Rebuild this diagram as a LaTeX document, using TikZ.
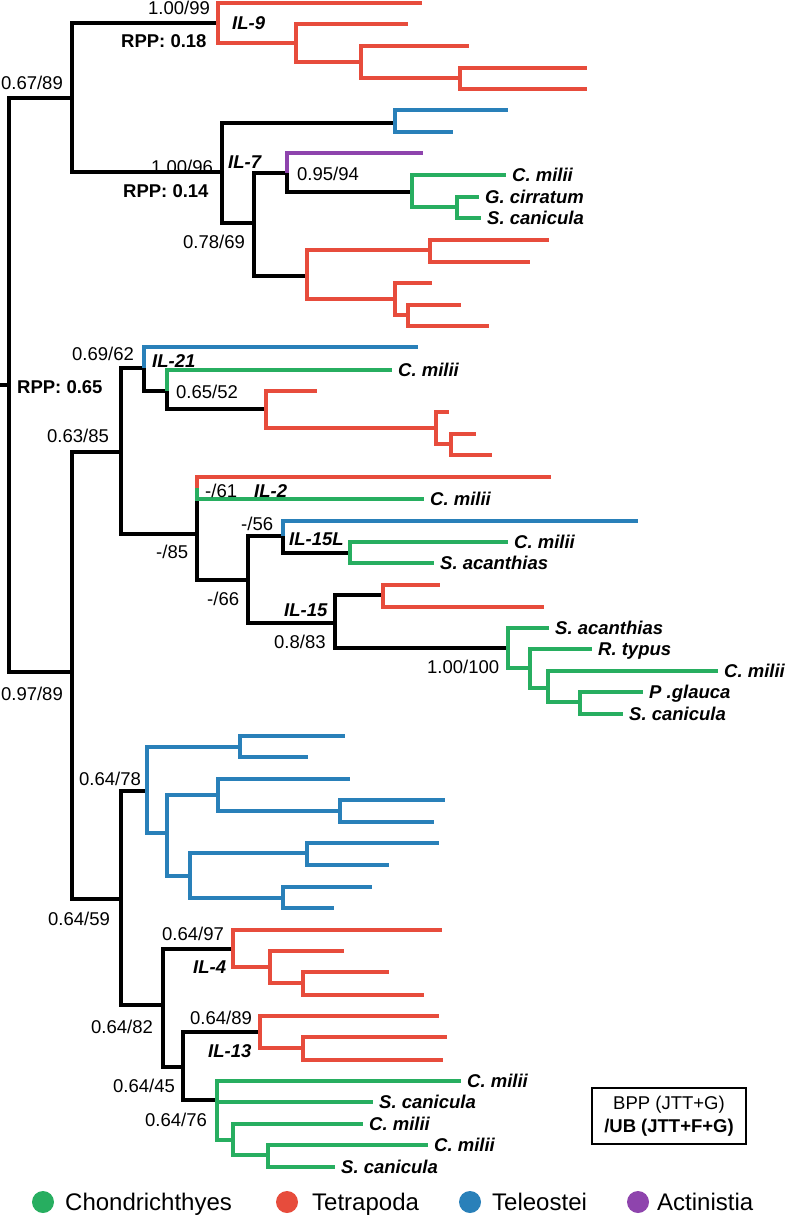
\documentclass[tikz,border=0pt]{standalone}
\usepackage{fontspec}
\setmainfont{Liberation Sans}
\usetikzlibrary{positioning}
\definecolor{cchon}{HTML}{27AE60}
\definecolor{ctet}{HTML}{E74C3C}
\definecolor{ctel}{HTML}{2980B9}
\definecolor{cact}{HTML}{8E44AD}

\begin{document}
\begin{tikzpicture}
[x=1pt, y=-1pt,
 blk/.style={line width=4pt, black},
 chon/.style={line width=3.2pt, cchon},
 tet/.style={line width=3.2pt, ctet},
 tel/.style={line width=3.2pt, ctel},
 act/.style={line width=3.2pt, cact},
 supp/.style={font=\fontsize{18.5}{22}\selectfont, inner sep=0pt, anchor=base west},
 rpp/.style={supp, font=\fontsize{18.5}{22}\selectfont\bfseries},
 clade/.style={supp, font=\fontsize{18.5}{22}\selectfont\bfseries\itshape},
 taxon/.style={font=\fontsize{18.5}{22}\selectfont\bfseries\itshape, inner sep=0pt,
   anchor=base west, xshift=6pt, yshift=-6.5pt},
 dot/.style={circle, inner sep=0pt, minimum size=22pt},
 key/.style={font=\fontsize{24}{28}\selectfont, inner sep=0pt, anchor=base west}]
\useasboundingbox (0,0) rectangle (787,1215);

% backbone
\coordinate (r0) at (0,385);   \coordinate (r) at (9,385);
\coordinate (a) at (72,98);    \coordinate (b) at (72,672);
% IL-9
\coordinate (a1) at (218,23);  \coordinate (a1b) at (296,43);
\coordinate (a1c) at (361,62); \coordinate (a1d) at (460,78);
\coordinate (t1) at (422,3);   \coordinate (t2) at (408,24);
\coordinate (t3) at (469,46);  \coordinate (t4) at (587,68);
\coordinate (t5) at (587,89);
% IL-7
\coordinate (a2) at (222,172); \coordinate (b1) at (395,123);
\coordinate (t6) at (508,110); \coordinate (t7) at (453,132);
\coordinate (b2) at (254,223); \coordinate (c1) at (287,173);
\coordinate (t8) at (423,153); \coordinate (c3) at (412,192);
\coordinate (t9) at (506,175); \coordinate (c4) at (457,207);
\coordinate (t10) at (479,197); \coordinate (t11) at (481,218);
\coordinate (c2) at (307,276); \coordinate (c5) at (430,250);
\coordinate (t12) at (549,240); \coordinate (t13) at (530,262);
\coordinate (c6) at (395,299); \coordinate (t14) at (432,283);
\coordinate (c7) at (408,315); \coordinate (t15) at (461,305);
\coordinate (t16) at (489,326);
% IL-21
\coordinate (d1) at (121,452); \coordinate (e1) at (144,368);
\coordinate (t17) at (418,347); \coordinate (e3) at (167,391);
\coordinate (t18) at (392,370); \coordinate (e4) at (266,409);
\coordinate (t19) at (317,391); \coordinate (e5) at (436,428);
\coordinate (t20) at (449,412); \coordinate (e6) at (451,444);
\coordinate (t21) at (476,434); \coordinate (t22) at (492,455);
% IL-2, IL-15L, IL-15
\coordinate (e2) at (197,534); \coordinate (f0) at (197,488);
\coordinate (t23) at (551,477); \coordinate (t24) at (424,499);
\coordinate (f1) at (248,580); \coordinate (f2) at (283,536);
\coordinate (t25) at (638,521); \coordinate (f4) at (350,553);
\coordinate (t26) at (508,542); \coordinate (t27) at (434,563);
\coordinate (f3) at (335,623); \coordinate (f5) at (383,595);
\coordinate (t28) at (440,585); \coordinate (t29) at (544,607);
\coordinate (f6) at (508,648); \coordinate (t30) at (549,628);
\coordinate (f7) at (530,668); \coordinate (t31) at (592,649);
\coordinate (f8) at (548,688); \coordinate (t32) at (718,671);
\coordinate (f9) at (580,702); \coordinate (t33) at (643,692);
\coordinate (t34) at (623,714);
% teleosts
\coordinate (d2) at (121,899); \coordinate (g1) at (147,791);
\coordinate (g3) at (240,747); \coordinate (t35) at (345,736);
\coordinate (t36) at (308,757); \coordinate (g4) at (167,833);
\coordinate (g5) at (218,795); \coordinate (t37) at (350,779);
\coordinate (g7) at (340,811); \coordinate (t38) at (445,800);
\coordinate (t39) at (434,822); \coordinate (g6) at (190,876);
\coordinate (g8) at (307,853); \coordinate (t40) at (439,843);
\coordinate (t41) at (389,865); \coordinate (g9) at (283,898);
\coordinate (t42) at (372,887); \coordinate (t43) at (334,908);
% IL-4, IL-13
\coordinate (g2) at (163,1005); \coordinate (h1) at (233,949);
\coordinate (t44) at (442,930); \coordinate (h3) at (270,967);
\coordinate (t45) at (344,951); \coordinate (h4) at (303,983);
\coordinate (t46) at (389,972); \coordinate (t47) at (424,995);
\coordinate (h2) at (183,1067); \coordinate (h5) at (260,1032);
\coordinate (t48) at (439,1016); \coordinate (h7) at (303,1048);
\coordinate (t49) at (447,1037); \coordinate (t50) at (443,1060);
\coordinate (h6) at (217,1100); \coordinate (t51) at (461,1081);
\coordinate (h8) at (217,1121); \coordinate (t52) at (373,1102);
\coordinate (h9) at (233,1140); \coordinate (t53) at (363,1124);
\coordinate (h10) at (268,1155); \coordinate (t54) at (428,1145);
\coordinate (t55) at (335,1167);

% branches
\draw[blk] (r0) -- (r);
\foreach \p/\c in {r/a, r/b, a/a1, a/a2, a2/b1, a2/b2, b2/c1, c1/c3, b2/c2,
  b/d1, b/d2, d1/e1, d1/e2, e1/e3, e3/e4, e2/f0, e2/f1, f1/f2, f1/f3, f2/f4,
  f3/f5, f3/f6, d2/g1, d2/g2, g2/h1, g2/h2, h2/h5, h2/h6}
  \draw[blk] (\p) |- (\c);
\foreach \p/\c in {a1/t1, a1/a1b, a1b/t2, a1b/a1c, a1c/t3, a1c/a1d, a1d/t4, a1d/t5,
  c2/c5, c5/t12, c5/t13, c2/c6, c6/t14, c6/c7, c7/t15, c7/t16,
  e4/t19, e4/e5, e5/t20, e5/e6, e6/t21, e6/t22, f0/t23, f5/t28, f5/t29,
  h1/t44, h1/h3, h3/t45, h3/h4, h4/t46, h4/t47, h5/t48, h5/h7, h7/t49, h7/t50}
  \draw[tet] (\p) |- (\c);
\foreach \p/\c in {b1/t6, b1/t7, e1/t17, f2/t25, g1/g3, g3/t35, g3/t36, g1/g4,
  g4/g5, g5/t37, g5/g7, g7/t38, g7/t39, g4/g6, g6/g8, g8/t40, g8/t41,
  g6/g9, g9/t42, g9/t43}
  \draw[tel] (\p) |- (\c);
\foreach \p/\c in {c3/t9, c3/c4, c4/t10, c4/t11, e3/t18, f0/t24, f4/t26, f4/t27,
  f6/t30, f6/f7, f7/t31, f7/f8, f8/t32, f8/f9, f9/t33, f9/t34,
  h6/t51, h6/h8, h8/t52, h8/h9, h9/t53, h9/h10, h10/t54, h10/t55}
  \draw[chon] (\p) |- (\c);
\draw[act] (c1) |- (t8);

% taxa
\foreach \t/\n in {t9/C. milii, t10/G. cirratum, t11/S. canicula, t18/C. milii,
  t24/C. milii, t26/C. milii, t27/S. acanthias, t30/S. acanthias, t31/R. typus,
  t32/C. milii, t33/P .glauca, t34/S. canicula, t51/C. milii, t52/S. canicula,
  t53/C. milii, t54/C. milii, t55/S. canicula}
  \node[taxon] (n-\t) at (\t) {\n};

% supports
\node[supp] (s1) at (148,15) {1.00/99};
\node[rpp] (p1) at (121,48) {RPP: 0.18};
\node[clade] (il9) at (232,30) {IL-9};
\node[supp, anchor=base east] (s2) at (63,89) {0.67/89};
\node[supp] (s3) at (151,173) {1.00/96};
\node[rpp] (p2) at (123,197) {RPP: 0.14};
\node[clade] (il7) at (228,168) {IL-7};
\node[supp] (s4) at (297,180) {0.95/94};
\node[supp] (s5) at (183,248) {0.78/69};
\node[supp] (s6) at (72,360) {0.69/62};
\node[clade] (il21) at (152,367) {IL-21};
\node[rpp] (p3) at (17,393) {RPP: 0.65};
\node[supp] (s7) at (176,398) {0.65/52};
\node[supp] (s8) at (47,442) {0.63/85};
\node[supp] (s9) at (156,558) {-/85};
\node[supp] (s10) at (205,497) {-/61};
\node[clade] (il2) at (254,497) {IL-2};
\node[supp] (s11) at (241,530) {-/56};
\node[clade] (il15l) at (289,545) {IL-15L};
\node[supp] (s12) at (207,605) {-/66};
\node[clade] (il15) at (284,616) {IL-15};
\node[supp] (s13) at (274,648) {0.8/83};
\node[supp] (s14) at (427,673) {1.00/100};
\node[supp, anchor=base east] (s15) at (63,700) {0.97/89};
\node[supp] (s16) at (79,785) {0.64/78};
\node[supp] (s17) at (48,925) {0.64/59};
\node[supp] (s18) at (162,940) {0.64/97};
\node[clade] (il4) at (193,973) {IL-4};
\node[supp] (s19) at (91,1033) {0.64/82};
\node[supp] (s20) at (190,1024) {0.64/89};
\node[clade] (il13) at (208,1057) {IL-13};
\node[supp] (s21) at (113,1092) {0.64/45};
\node[supp] (s22) at (145,1126) {0.64/76};

% box
\node[draw, line width=1.8pt, minimum width=154pt, minimum height=56pt, align=center,
  inner sep=0pt, font=\fontsize{18.5}{23}\selectfont] (bx) at (669,1116)
  {BPP (JTT+G)\\\textbf{/UB (JTT+F+G)}};

% legend
\node[dot, fill=cchon] (k1) at (43,1202) {};
\node[key] (k1t) at (65,1210) {Chondrichthyes};
\node[dot, fill=ctet] (k2) at (287,1202) {};
\node[key] (k2t) at (312,1210) {Tetrapoda};
\node[dot, fill=ctel] (k3) at (470,1202) {};
\node[key] (k3t) at (492,1210) {Teleostei};
\node[dot, fill=cact] (k4) at (638,1202) {};
\node[key] (k4t) at (657,1210) {Actinistia};
\end{tikzpicture}
\end{document}
